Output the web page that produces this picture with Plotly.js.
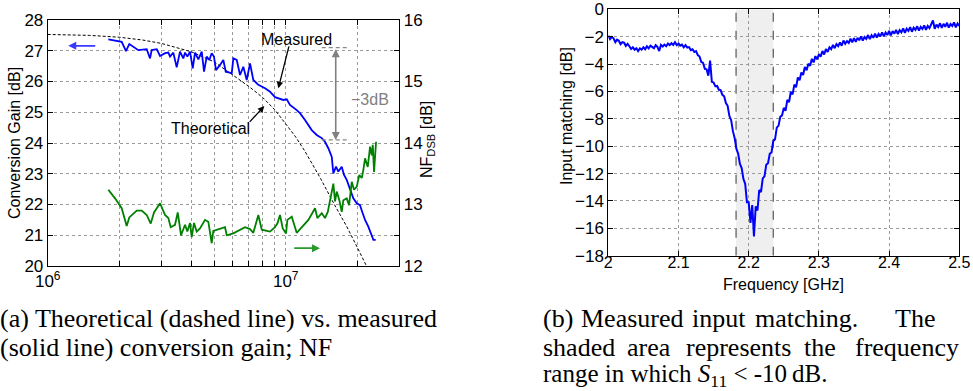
<!DOCTYPE html>
<html>
<head>
<meta charset="utf-8">
<script src="https://cdn.plot.ly/plotly-3.0.1.min.js"></script>
<style>
  html, body { margin: 0; padding: 0; background: #fff; }
  #chart { width: 973px; height: 391px; }
</style>
</head>
<body>
<div id="chart"></div>
<script>
// ---------------- (a) Conversion gain / NF ----------------
// frequencies in MHz
const gainFreqMHz = [1.798, 2.046, 2.133, 2.202, 2.403, 2.606, 2.691, 2.735, 2.871, 2.964, 3.111, 3.212, 3.266, 3.371, 3.483, 3.596, 3.713, 3.775, 3.860, 3.962, 4.067, 4.159, 4.294, 4.437, 4.537, 4.656, 4.775, 4.887, 4.995, 5.093, 5.297, 5.468, 5.597, 5.932, 6.024, 6.225, 6.427, 6.634, 6.857, 7.079, 7.309, 7.430, 7.672, 8.185, 8.590, 9.016, 9.462, 9.770, 10.10, 10.42, 11.12, 11.48, 12.05, 12.45, 12.86, 13.49, 14.17, 14.62, 15.10, 15.61, 15.85, 16.27, 16.63, 17.19, 17.58, 18.04, 18.63, 19.23, 19.88, 20.51, 21.07, 21.54, 22.23, 22.75, 23.35, 23.88];
const gainMeasured = [27.37, 27.29, 26.99, 27.22, 27.02, 27.05, 26.75, 27.02, 27.05, 26.83, 26.92, 26.94, 26.81, 26.94, 26.46, 26.97, 26.75, 26.94, 26.81, 26.97, 26.43, 26.94, 26.72, 26.97, 26.32, 26.81, 26.70, 26.92, 26.81, 26.37, 26.54, 26.70, 26.32, 26.27, 26.75, 26.70, 26.21, 26.48, 26.05, 26.59, 26.05, 25.99, 25.89, 25.78, 25.67, 25.49, 25.42, 25.40, 25.42, 25.24, 25.07, 24.97, 24.75, 24.59, 24.42, 24.26, 24.16, 24.04, 23.83, 23.55, 23.01, 23.23, 23.07, 23.23, 22.96, 22.80, 22.47, 22.20, 22.04, 21.98, 21.71, 21.50, 21.28, 21.06, 20.85, 20.85];

const theoryFreqMHz = [1, 1.5, 2, 2.5, 3, 4, 5, 6, 7, 8, 9, 10, 11, 12, 13, 14, 16, 18, 20, 22];
const gainTheory = [27.53, 27.50, 27.44, 27.35, 27.24, 26.97, 26.64, 26.22, 25.84, 25.48, 25.08, 24.62, 24.20, 23.75, 23.30, 22.85, 22.00, 21.30, 20.60, 19.95];

const nfFreqMHz = [1.798, 1.918, 2.046, 2.147, 2.202, 2.366, 2.483, 2.606, 2.709, 2.797, 2.964, 3.111, 3.212, 3.287, 3.427, 3.518, 3.633, 3.775, 3.860, 3.962, 4.027, 4.119, 4.227, 4.364, 4.580, 4.729, 4.887, 4.963, 5.559, 5.651, 6.024, 6.745, 7.079, 7.309, 7.672, 7.930, 8.590, 9.016, 9.220, 9.462, 9.714, 10.03, 10.16, 10.60, 11.12, 11.68, 12.45, 13.28, 13.58, 14.17, 14.62, 15.02, 15.35, 15.85, 16.11, 16.38, 16.80, 17.19, 17.46, 18.04, 18.45, 18.94, 19.36, 19.88, 20.38, 20.86, 21.18, 21.54, 22.11, 22.61, 22.98, 23.21, 23.50, 23.73, 23.96];
const nfMeasured = [13.24, 13.10, 12.94, 12.65, 12.79, 12.90, 12.90, 12.83, 12.69, 12.87, 13.02, 12.83, 12.78, 12.63, 12.67, 12.87, 12.50, 12.67, 12.56, 12.70, 12.47, 12.70, 12.56, 12.61, 12.75, 12.72, 12.37, 12.57, 12.63, 12.50, 12.53, 12.63, 12.60, 12.54, 12.83, 12.59, 12.56, 12.63, 12.69, 12.83, 12.61, 12.53, 12.75, 12.80, 12.54, 12.63, 12.75, 12.94, 12.78, 12.86, 12.78, 12.88, 13.05, 13.34, 13.05, 13.21, 13.07, 12.88, 13.07, 13.10, 12.99, 13.37, 13.24, 13.29, 13.48, 13.43, 13.56, 13.75, 13.61, 13.94, 13.80, 13.97, 13.53, 13.89, 14.02];

// -3 dB marker levels and their frequency span (MHz)
const dbMarkLevels = [27.10, 24.10];
const dbMarkSpanMHz = [14.17, 18.33];

const gainTickVals = [1, 2, 3, 4, 5, 6, 7, 8, 9, 10, 20, 30]; // MHz
const gainTickText = ['10<sup>6</sup>', '', '', '', '', '', '', '', '', '10<sup>7</sup>', '', ''];

// ---------------- (b) Input matching ----------------
const s11FreqGHz = [
 2.0000,2.0025,2.0050,2.0075,2.0100,2.0125,2.0150,2.0175,2.0200,2.0225,
 2.0250,2.0275,2.0300,2.0325,2.0350,2.0375,2.0400,2.0425,2.0450,2.0475,
 2.0500,2.0525,2.0550,2.0575,2.0600,2.0625,2.0650,2.0675,2.0700,2.0725,
 2.0750,2.0775,2.0800,2.0825,2.0850,2.0875,2.0900,2.0925,2.0950,2.0975,
 2.1000,2.1025,2.1050,2.1075,2.1100,2.1125,2.1150,2.1175,2.1200,2.1225,
 2.1250,2.1275,2.1300,2.1325,2.1350,2.1375,2.1400,2.1425,2.1450,2.1475,
 2.1500,2.1525,2.1550,2.1575,2.1600,2.1625,2.1650,2.1675,2.1700,2.1725,
 2.1750,2.1775,2.1800,2.1825,2.1850,2.1875,2.1900,2.1925,2.1950,2.1975,
 2.2000,2.2025,2.2050,2.2075,2.2100,2.2125,2.2150,2.2175,2.2200,2.2225,
 2.2250,2.2275,2.2300,2.2325,2.2350,2.2375,2.2400,2.2425,2.2450,2.2475,
 2.2500,2.2525,2.2550,2.2575,2.2600,2.2625,2.2650,2.2675,2.2700,2.2725,
 2.2750,2.2775,2.2800,2.2825,2.2850,2.2875,2.2900,2.2925,2.2950,2.2975,
 2.3000,2.3025,2.3050,2.3075,2.3100,2.3125,2.3150,2.3175,2.3200,2.3225,
 2.3250,2.3275,2.3300,2.3325,2.3350,2.3375,2.3400,2.3425,2.3450,2.3475,
 2.3500,2.3525,2.3550,2.3575,2.3600,2.3625,2.3650,2.3675,2.3700,2.3725,
 2.3750,2.3775,2.3800,2.3825,2.3850,2.3875,2.3900,2.3925,2.3950,2.3975,
 2.4000,2.4025,2.4050,2.4075,2.4100,2.4125,2.4150,2.4175,2.4200,2.4225,
 2.4250,2.4275,2.4300,2.4325,2.4350,2.4375,2.4400,2.4425,2.4450,2.4475,
 2.4500,2.4525,2.4550,2.4575,2.4600,2.4625,2.4650,2.4675,2.4700,2.4725,
 2.4750,2.4775,2.4800,2.4825,2.4850,2.4875,2.4900,2.4925,2.4950,2.4975,
 2.5000];
const s11dB = [
 -1.92,-2.18,-2.02,-2.12,-2.40,-2.22,-2.30,-2.55,-2.40,-2.44,
 -2.68,-2.52,-2.70,-2.90,-2.78,-2.95,-2.84,-3.05,-2.86,-2.95,
 -2.78,-2.92,-2.70,-2.85,-2.66,-2.78,-2.84,-2.62,-2.75,-3.05,
 -2.60,-2.72,-2.58,-2.70,-2.50,-2.62,-2.48,-2.60,-2.40,-2.62,
 -2.50,-2.66,-2.58,-2.78,-2.62,-2.80,-2.76,-2.98,-2.92,-3.12,
 -3.05,-3.35,-3.45,-3.85,-3.92,-4.35,-4.38,-4.85,-3.75,-5.30,
 -5.35,-5.62,-5.60,-5.88,-5.90,-6.25,-6.35,-6.85,-7.05,-7.80,
 -8.10,-8.90,-9.40,-10.20,-10.55,-11.30,-11.60,-12.40,-12.75,-14.10,
 -14.10,-15.60,-14.30,-16.60,-14.40,-14.70,-13.20,-13.35,-12.35,-12.20,
 -11.35,-11.25,-10.55,-10.45,-9.62,-9.50,-8.65,-8.50,-7.85,-7.75,
 -7.20,-7.42,-6.62,-6.78,-6.02,-6.22,-5.50,-5.70,-4.98,-5.18,
 -4.62,-4.80,-4.22,-4.45,-3.98,-4.12,-3.62,-3.88,-3.42,-3.66,
 -3.28,-3.46,-3.05,-3.30,-2.90,-3.12,-2.78,-2.92,-2.60,-2.84,
 -2.55,-2.70,-2.42,-2.66,-2.28,-2.52,-2.32,-2.46,-2.15,-2.42,
 -2.10,-2.38,-2.08,-2.26,-1.98,-2.28,-2.02,-2.16,-1.88,-2.18,
 -1.90,-2.08,-1.78,-2.06,-1.80,-1.98,-1.68,-1.98,-1.70,-1.88,
 -1.58,-1.90,-1.60,-1.78,-1.50,-1.82,-1.52,-1.68,-1.40,-1.72,
 -1.42,-1.58,-1.30,-1.64,-1.34,-1.50,-1.24,-1.56,-1.28,-1.44,
 -1.18,-1.50,-1.22,-1.38,-1.10,-0.82,-1.42,-1.12,-1.30,-1.02,
 -1.36,-1.06,-1.28,-0.98,-1.34,-1.08,-1.22,-0.96,-1.32,-1.04,
 -1.22];
const shadeRangeGHz = [2.182, 2.235];

// ---------------- build ----------------
const MHz = v => v * 1e6;
const L = v => Math.log10(v);
const FONT = 'Liberation Sans, Arial, Helvetica, sans-serif';
const SERIF = 'Liberation Serif, Times New Roman, serif';
const W = 973, H = 391;
const px = x => x / W;
const py = y => 1 - y / H;

const traces = [
  { x: theoryFreqMHz.map(MHz), y: gainTheory, xaxis: 'x', yaxis: 'y', mode: 'lines',
    line: { color: '#000', width: 1, dash: '3px,2px' } },
  { x: gainFreqMHz.map(MHz), y: gainMeasured, xaxis: 'x', yaxis: 'y', mode: 'lines',
    line: { color: '#0000ff', width: 1.8 } },
  { x: nfFreqMHz.map(MHz), y: nfMeasured, xaxis: 'x', yaxis: 'y2', mode: 'lines',
    line: { color: '#008000', width: 1.8 } },
  { x: [MHz(dbMarkSpanMHz[0]), MHz(dbMarkSpanMHz[1]), null, MHz(dbMarkSpanMHz[0]), MHz(dbMarkSpanMHz[1])],
    y: [dbMarkLevels[0], dbMarkLevels[0], null, dbMarkLevels[1], dbMarkLevels[1]],
    xaxis: 'x', yaxis: 'y', mode: 'lines', connectgaps: false,
    line: { color: '#888', width: 1.2, dash: '4px,3px' } },
  { x: s11FreqGHz, y: s11dB, xaxis: 'x3', yaxis: 'y3', mode: 'lines',
    line: { color: '#0000ff', width: 2 } }
];

const axBase = {
  showline: true, linecolor: '#000', linewidth: 1, ticks: 'inside', ticklen: 5, tickcolor: '#000',
  showgrid: true, gridcolor: '#9a9a9a', griddash: 'dot', gridwidth: 1, zeroline: false,
  tickfont: { family: FONT, size: 17, color: '#000' }, fixedrange: true
};

const layout = {
  width: W, height: H, margin: { l: 0, r: 0, t: 0, b: 0 },
  paper_bgcolor: '#fff', plot_bgcolor: '#fff', showlegend: false,
  font: { family: FONT, size: 16, color: '#000' },
  xaxis: Object.assign({}, axBase, {
    type: 'log', domain: [47.7 / W, 399.3 / W], range: [6, L(3e7)], anchor: 'y',
    tickvals: gainTickVals.map(MHz), ticktext: gainTickText, mirror: 'ticks'
  }),
  yaxis: Object.assign({}, axBase, {
    domain: [py(266), py(20)], range: [20, 28], dtick: 1, anchor: 'x', mirror: 'ticks'
  }),
  yaxis2: Object.assign({}, axBase, {
    overlaying: 'y', side: 'right', range: [12, 16], dtick: 1, anchor: 'x', showgrid: false
  }),
  xaxis3: Object.assign({}, axBase, {
    domain: [608.3 / W, 959.3 / W], range: [2, 2.5], dtick: 0.1, anchor: 'y3', mirror: 'ticks',
    ticklabelstandoff: -8, tickfont: { family: FONT, size: 16, color: '#000' }
  }),
  yaxis3: Object.assign({}, axBase, {
    domain: [py(255.7), py(9.3)], range: [-18, 0], dtick: 2, anchor: 'x3', mirror: 'ticks'
  }),
  shapes: [
    { type: 'rect', xref: 'x3', yref: 'y3', x0: shadeRangeGHz[0], x1: shadeRangeGHz[1], y0: -18, y1: 0,
      fillcolor: '#efefef', line: { width: 0 }, layer: 'below' },
    { type: 'line', xref: 'x3', yref: 'y3', x0: shadeRangeGHz[0], x1: shadeRangeGHz[0], y0: -18, y1: 0,
      line: { color: '#555', width: 1.2, dash: 'dash' }, layer: 'below' },
    { type: 'line', xref: 'x3', yref: 'y3', x0: shadeRangeGHz[1], x1: shadeRangeGHz[1], y0: -18, y1: 0,
      line: { color: '#555', width: 1.2, dash: 'dash' }, layer: 'below' }
  ],
  annotations: []
};

const A = layout.annotations;
const T = (x, y, text, extra) => Object.assign({ xref: 'paper', yref: 'paper', x: px(x), y: py(y), text: text,
  xanchor: 'center', yanchor: 'middle', showarrow: false, font: { family: FONT, size: 16 } }, extra || {});
// axis titles
A.push(T(14, 143, 'Conversion Gain [dB]', { textangle: -90 }));
A.push(T(428, 140, 'NF<sub>DSB</sub> [dB]', { textangle: -90 }));
A.push(T(566, 116, 'Input matching [dB]', { textangle: -90 }));
A.push(T(783, 284, 'Frequency [GHz]'));

// in-plot annotations (a)
const D = (x, y, text, extra) => Object.assign({ xref: 'x', yref: 'y', x: x, y: y, text: text,
  xanchor: 'center', yanchor: 'middle', showarrow: false, font: { family: FONT, size: 16 } }, extra || {});
const arrow = (x, y, ax, ay, color, w, extra) => Object.assign({ xref: 'x', yref: 'y', axref: 'x', ayref: 'y',
  x: x, y: y, ax: ax, ay: ay, text: '', showarrow: true, arrowhead: 2, arrowsize: 1, arrowwidth: w, arrowcolor: color }, extra || {});

A.push(arrow(L(MHz(1.22)), 27.16, L(MHz(1.607)), 27.16, '#3a3aff', 1.6));
A.push(arrow(L(MHz(13.93)), 12.29, L(MHz(10.7)), 12.29, '#2a9a2a', 1.6, { yref: 'y2', ayref: 'y2' }));
A.push(D(L(MHz(11.12)), 27.37, 'Measured'));
A.push(arrow(L(MHz(9.31)), 25.78, L(MHz(10.35)), 27.19, '#000', 1.3));
A.push(D(L(MHz(4.81)), 24.48, 'Theoretical'));
A.push(arrow(L(MHz(8.13)), 25.20, L(MHz(6.96)), 24.64, '#000', 1.3));
A.push(arrow(L(MHz(16.22)), dbMarkLevels[1], L(MHz(16.22)), dbMarkLevels[0], '#808080', 1.6,
  { startarrowhead: 2, arrowside: 'end+start' }));
A.push(D(L(MHz(22.6)), 25.43, '\u22123dB', { font: { family: FONT, size: 16, color: '#808080' } }));

// captions
const capFont = { family: SERIF, size: 26, color: '#000' };
function cap(x, y, t, size) {
  A.push({ xref: 'paper', yref: 'paper', x: px(x), y: py(y), xanchor: 'left', yanchor: 'middle',
    text: t, showarrow: false, font: Object.assign({}, capFont, size ? { size: size } : {}) });
}
cap(-2, 318, '(a) Theoretical (dashed line) vs. measured');
cap(-2, 347, '(solid line) conversion gain; NF');
[[541, '(b)'], [579, 'Measured'], [690, 'input'], [753, 'matching.'], [893, 'The']].forEach(w => cap(w[0], 318, w[1]));
[[541, 'shaded'], [625, 'area'], [684, 'represents'], [802, 'the'], [853, 'frequency']].forEach(w => cap(w[0], 347, w[1]));
cap(541, 375, 'range in which <i>S</i><sub>11</sub> &lt; -10\u2009dB.', 25);

Plotly.newPlot('chart', traces, layout, { staticPlot: true, displayModeBar: false });
</script>
</body>
</html>
